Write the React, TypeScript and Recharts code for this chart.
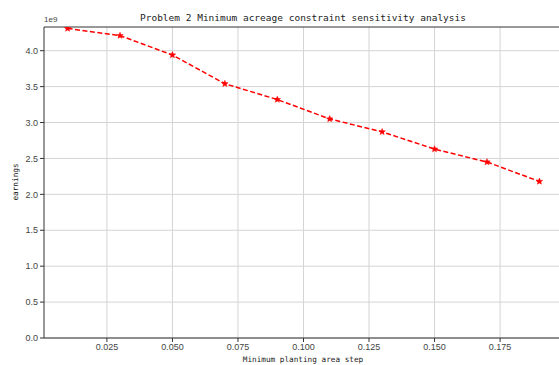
import { LineChart, Line, XAxis, YAxis, CartesianGrid, ReferenceLine } from 'recharts';

const steps = [0.01, 0.03, 0.05, 0.07, 0.09, 0.11, 0.13, 0.15, 0.17, 0.19];
const earnings = [4.31e9, 4.21e9, 3.94e9, 3.54e9, 3.32e9, 3.05e9, 2.87e9, 2.63e9, 2.45e9, 2.18e9];
const xTicks = [0.025, 0.05, 0.075, 0.1, 0.125, 0.15, 0.175];
const yTicks = [0, 0.5e9, 1e9, 1.5e9, 2e9, 2.5e9, 3e9, 3.5e9, 4e9];

const data = steps.map((s, i) => ({ step: s, earnings: earnings[i] }));

const mono = 'DejaVu Sans Mono, monospace';
const tickStyle = { fontSize: 9, fill: '#444', fontFamily: 'Liberation Sans, sans-serif' };

function Star(props: any) {
  const { cx, cy } = props;
  if (cx == null || cy == null) return null;
  const pts: string[] = [];
  for (let i = 0; i < 10; i++) {
    const r = i % 2 === 0 ? 3.4 : 1.5;
    const a = (Math.PI / 5) * i - Math.PI / 2;
    pts.push(`${cx + r * Math.cos(a)},${cy + r * Math.sin(a)}`);
  }
  return <polygon points={pts.join(' ')} fill="#ff0000" stroke="#ff0000" strokeWidth={0.5} />;
}

export default function App() {
  return (
    <div style={{ position: 'absolute', left: 0, top: 0, width: 559, height: 365, overflow: 'hidden', background: '#fff' }}>
      <LineChart width={570} height={365} data={data} margin={{ top: 27, right: 7, bottom: 0, left: 0 }}>
        <CartesianGrid stroke="#d4d4d4" strokeWidth={1} verticalValues={xTicks} horizontalValues={yTicks} />
        <XAxis
          dataKey="step"
          type="number"
          domain={[0.001, 0.199]}
          ticks={xTicks}
          tickFormatter={(v: number) => v.toFixed(3)}
          tick={tickStyle}
          tickSize={4}
          height={27}
          stroke="#333"
          tickLine={{ stroke: '#333' }}
          allowDataOverflow
        />
        <YAxis
          type="number"
          domain={[0, 4.33e9]}
          ticks={yTicks}
          tickFormatter={(v: number) => (v / 1e9).toFixed(1)}
          tick={tickStyle}
          tickSize={4}
          width={44}
          stroke="#333"
          tickLine={{ stroke: '#333' }}
          allowDataOverflow
        />
        <ReferenceLine y={4.33e9} stroke="#333" />
        <Line
          type="linear"
          dataKey="earnings"
          stroke="#ff0000"
          strokeWidth={1.5}
          strokeDasharray="5 2.5"
          dot={<Star />}
          activeDot={false}
          isAnimationActive={false}
        />
        <text x={303} y={21} textAnchor="middle" fontSize={9.5} fontFamily={mono} fill="#222">
          Problem 2 Minimum acreage constraint sensitivity analysis
        </text>
        <text x={44} y={22} fontSize={8} fontFamily="Liberation Sans, sans-serif" fill="#444">
          1e9
        </text>
        <text x={303} y={362} textAnchor="middle" fontSize={7.7} fontFamily={mono} fill="#222">
          Minimum planting area step
        </text>
        <text
          x={18}
          y={182}
          textAnchor="middle"
          fontSize={7.7}
          fontFamily={mono}
          fill="#222"
          transform="rotate(-90 18 182)"
        >
          earnings
        </text>
      </LineChart>
    </div>
  );
}
